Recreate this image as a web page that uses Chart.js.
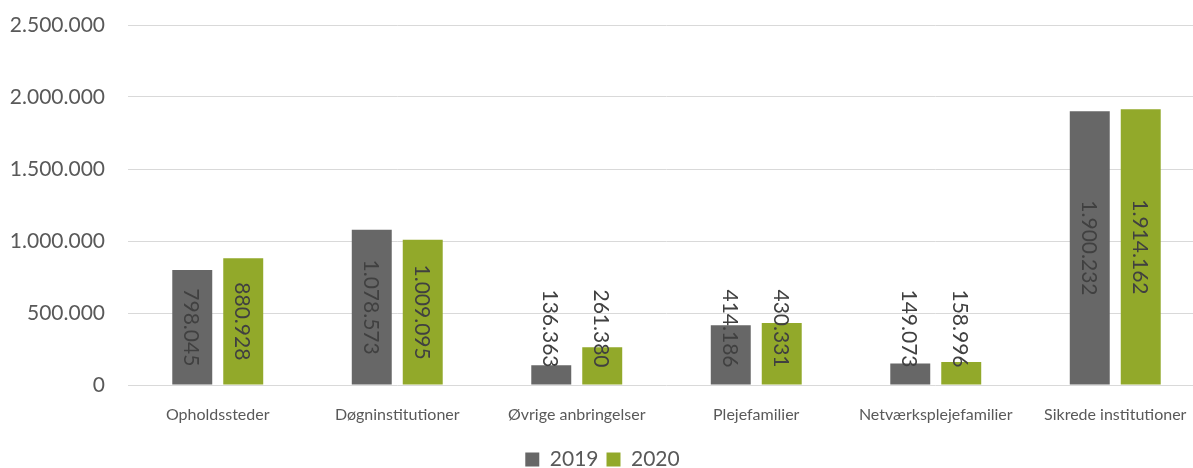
<!DOCTYPE html>
<html>
<head>
<meta charset="utf-8">
<script src="https://cdn.jsdelivr.net/npm/chart.js@4"></script>
<style>
html, body { margin: 0; padding: 0; overflow: hidden; background: #fff; }
#wrap { width: 1235px; height: 480px; }
</style>
</head>
<body>
<div id="wrap"><canvas id="myChart"></canvas></div>
<script>
const categories = ['Opholdssteder', 'Døgninstitutioner', 'Øvrige anbringelser', 'Plejefamilier', 'Netværksplejefamilier', 'Sikrede institutioner'];
const values2019 = [798045, 1078573, 136363, 414186, 149073, 1900232];
const values2020 = [880928, 1009095, 261380, 430331, 158996, 1914162];
const seriesNames = ['2019', '2020'];
const yMax = 2500000;
const yStep = 500000;

// tal med punktum som tusindtalsseparator
function fmt(v) {
    return String(v).replace(/\B(?=(\d{3})+(?!\d))/g, '.');
}

const barLabels = {
    id: 'barLabels',
    afterDatasetsDraw(chart) {
        const ctx = chart.ctx;
        ctx.save();
        ctx.font = '21px Lato';
        ctx.fillStyle = '#404040';
        ctx.textAlign = 'center';
        ctx.textBaseline = 'middle';
        chart.data.datasets.forEach((ds, i) => {
            chart.getDatasetMeta(i).data.forEach((bar, j) => {
                const text = fmt(ds.data[j]);
                const len = ctx.measureText(text).width;
                // midt i søjlen, men korte søjler får teksten skubbet op
                const cy = Math.min((bar.y + bar.base) / 2, bar.base - 17 - len / 2);
                ctx.save();
                ctx.translate(bar.x, cy);
                ctx.rotate(Math.PI / 2);
                ctx.fillText(text, 0, 1);
                ctx.restore();
            });
        });
        ctx.restore();
    }
};

const ctx = document.getElementById('myChart');

new Chart(ctx, {
    type: 'bar',
    data: {
        labels: categories,
        datasets: [{
            label: seriesNames[0],
            data: values2019,
            backgroundColor: '#676767',
            categoryPercentage: 0.568,
            barPercentage: 0.784
        }, {
            label: seriesNames[1],
            data: values2020,
            backgroundColor: '#92a92a',
            categoryPercentage: 0.568,
            barPercentage: 0.784
        }]
    },
    options: {
        responsive: true,
        maintainAspectRatio: false,
        animation: false,
        layout: { padding: { top: 25, right: 30, left: 0, bottom: 0 } },
        plugins: {
            tooltip: { enabled: false },
            legend: {
                position: 'bottom',
                labels: {
                    boxWidth: 14,
                    boxHeight: 14,
                    padding: 8,
                    color: '#595959',
                    font: { family: 'Lato', size: 21 }
                }
            }
        },
        scales: {
            x: {
                grid: { display: false },
                border: { display: false },
                ticks: {
                    color: '#595959',
                    font: { family: 'Lato', size: 16 },
                    padding: 12,
                    maxRotation: 0,
                    autoSkip: false
                },
                afterFit(scale) { scale.height = 56; }
            },
            y: {
                min: 0,
                max: yMax,
                grid: { color: '#d9d9d9', drawTicks: false },
                border: { display: false },
                ticks: {
                    stepSize: yStep,
                    color: '#595959',
                    font: { family: 'Lato', size: 21 },
                    padding: 23,
                    callback: v => fmt(v)
                },
                afterFit(scale) {
                    scale.width = 128;
                    scale.paddingTop = 0;
                    scale.paddingBottom = 0;
                }
            }
        }
    },
    plugins: [barLabels]
});
</script>
</body>
</html>
